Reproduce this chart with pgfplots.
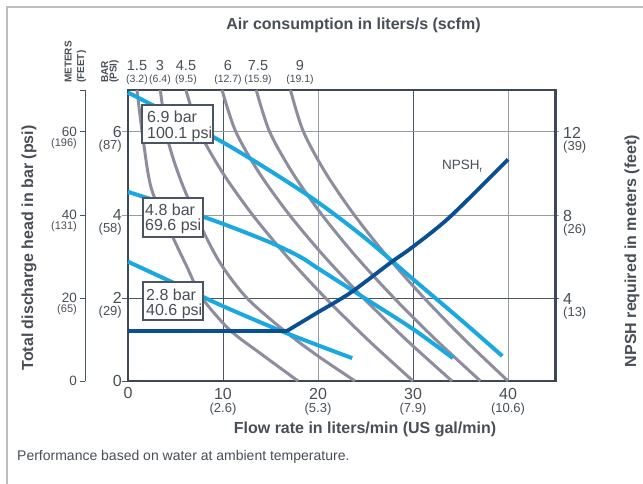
\documentclass[border=0pt]{standalone}
\usepackage{fontspec}
\setmainfont{Liberation Sans}
\usepackage{pgfplots}
\pgfplotsset{compat=1.18}
\definecolor{lb}{RGB}{26,168,225}
\definecolor{db}{RGB}{10,78,150}
\definecolor{cg}{RGB}{142,141,157}
\definecolor{fr}{RGB}{61,72,86}
\definecolor{gd}{RGB}{74,85,99}
\definecolor{gl}{RGB}{150,156,165}
\definecolor{tx}{RGB}{72,78,86}
\definecolor{bd}{RGB}{185,190,197}
\newcommand\fs[1]{\fontsize{#1}{#1}\selectfont}
\begin{document}
\begin{tikzpicture}[x=1pt,y=1pt]
\useasboundingbox (0,0) rectangle (643,483);
\draw[bd, line width=1.2pt] (7,-2) -- (7,476) -- (645,476);
\node[anchor=base west, font=\fs{14}, text=tx, inner sep=0] at (17,23) {Performance based on water at ambient temperature.};
% grid and outer axis (picture coordinates: x=128+9.5*X, y=102+41.5*Y)
\draw[gd, line width=1pt] (223,102) -- (223,392.5);
\draw[gl, line width=1pt] (318,102) -- (318,392.5);
\draw[gd, line width=1pt] (413,102) -- (413,392.5);
\draw[gl, line width=1pt] (508,102) -- (508,392.5);
\draw[gd, line width=1pt] (122,185) -- (559,185);
\draw[gl, line width=1pt] (122,268) -- (559,268);
\draw[gl, line width=1pt] (122,351) -- (559,351);
\draw[gd, line width=1pt] (122,102) -- (128,102);
\draw[gd, line width=1pt] (85,102) -- (85,392.5);
\foreach \yy in {102,185,268,351,392.5} {\draw[gd, line width=1pt] (80,\yy) -- (85,\yy);}
\begin{axis}[at={(128pt,102pt)}, anchor=south west, scale only axis,
  width=427.5pt, height=291pt, xmin=0, xmax=45, ymin=0, ymax=7,
  ticks=none, axis line style={fr, line width=2.5pt}, clip=false]
% air consumption curves
\addplot[cg, line width=3pt, smooth] coordinates {(0.95,7) (1.6,5.8) (2.5,4.6) (4.7,3.47) (6.2,2.75) (7.8,2.0) (10.7,1.23) (13.9,0.67) (17.9,0)};
\addplot[cg, line width=3pt, smooth] coordinates {(3.4,7) (4.2,5.8) (5.6,4.8) (7.5,3.8) (9.7,2.84) (12.5,2.0) (16.5,1.2) (20,0.6) (23.9,0)};
\addplot[cg, line width=3pt, smooth] coordinates {(6.1,7) (7.52,6) (9.99,5) (13.1,4) (16.72,3) (20.77,2) (25.21,1) (30,0)};
\addplot[cg, line width=3pt, smooth] coordinates {(9.9,7) (11.34,6) (13.83,5) (16.98,4) (20.65,3) (24.76,2) (29.25,1) (34.1,0)};
\addplot[cg, line width=3pt, smooth] coordinates {(13.5,7) (14.9,6) (17.34,5) (20.41,4) (23.98,3) (27.99,2) (32.37,1) (37.1,0)};
\addplot[cg, line width=3pt, smooth] coordinates {(17.1,7) (18.46,6) (20.82,5) (23.8,4) (27.27,3) (31.16,2) (35.41,1) (40,0)};
% pressure curves
\addplot[lb, line width=4pt, smooth] coordinates {(0,6.94) (5,6.35) (10,5.74) (15,5.05) (20,4.3) (25,3.43) (30,2.45) (35,1.48) (39.4,0.6)};
\addplot[lb, line width=4pt, smooth] coordinates {(0,4.55) (5,4.18) (10,3.78) (15,3.33) (18.1,2.99) (20,2.71) (25,1.98) (30,1.25) (34.2,0.55)};
\addplot[lb, line width=4pt, smooth] coordinates {(0,2.87) (5,2.34) (10,1.8) (16.7,1.15) (23.6,0.55)};
\end{axis}
\begin{axis}[at={(128pt,102pt)}, anchor=south west, scale only axis,
  width=427.5pt, height=291pt, xmin=0, xmax=45, ymin=0, ymax=14, hide axis, clip=false]
\addplot[db, line width=3.8pt] coordinates {(0,2.4) (16.7,2.4)};
\addplot[db, line width=3.8pt, smooth] coordinates {(16.7,2.4) (19.9,3.28) (23.4,4.24) (27.6,5.68) (30,6.46) (33.9,7.9) (40,10.66)};
\end{axis}
% tick labels
\foreach \yy/\pp in {6/87,4/58,2/29} {
  \node[anchor=east, font=\fs{16}, text=tx, inner sep=0] at (122,{102+41.5*\yy}) {\yy};
  \node[anchor=east, font=\fs{13}, text=tx, inner sep=0] at (122,{87.5+41.5*\yy}) {(\pp)};
}
\node[anchor=east, font=\fs{16}, text=tx, inner sep=0] at (122,102) {0};
\node[font=\fs{16}, text=tx, inner sep=0] at (128,90.5) {0};
\foreach \xx/\pp in {10/2.6,20/5.3,30/7.9,40/10.6} {
  \node[font=\fs{16}, text=tx, inner sep=0] at ({128+9.5*\xx},89.5) {\xx};
  \node[font=\fs{13}, text=tx, inner sep=0] at ({128+9.5*\xx},73.5) {(\pp)};
}
\foreach \yy/\mm/\pp in {6/60/196,4/40/131,2/20/65} {
  \node[anchor=east, font=\fs{13.5}, text=tx, inner sep=0] at (77,{102.5+41.5*\yy}) {\mm};
  \node[anchor=east, font=\fs{11}, text=tx, inner sep=0] at (77,{90+41.5*\yy}) {(\pp)};
}
\node[anchor=east, font=\fs{13.5}, text=tx, inner sep=0] at (77,102) {0};
\foreach \yy/\mm/\pp in {6/12/39,4/8/26,2/4/13} {
  \node[anchor=west, font=\fs{16}, text=tx, inner sep=0] at (563,{101.5+41.5*\yy}) {\mm};
  \node[anchor=west, font=\fs{13}, text=tx, inner sep=0] at (563,{87+41.5*\yy}) {(\pp)};
}
\foreach \xx/\aa/\pp in {137/1.5/3.2,160/3/6.4,186/4.5/9.5,228/6/12.7,258/7.5/15.9,300/9/19.1} {
  \node[font=\fs{14.5}, text=tx, inner sep=0] at (\xx,417.5) {\aa};
  \node[font=\fs{10.5}, text=tx, inner sep=0] at (\xx,403) {(\pp)};
}
\node[anchor=base west, font=\fs{13.5}, text=tx, inner sep=0] at (442,313) {NPSH\raisebox{-3pt}{\fs{8}r}};
% boxes
\draw[gd, line width=1.1pt, fill=white] (142,378) rectangle (213,340);
\node[anchor=base west, font=\fs{16}, text=tx, inner sep=0] at (147,360) {6.9 bar};
\node[anchor=base west, font=\fs{16}, text=tx, inner sep=0] at (147,344.5) {100.1 psi};
\draw[gd, line width=1.1pt, fill=white] (143,285) rectangle (203,246);
\node[anchor=base west, font=\fs{16}, text=tx, inner sep=0] at (145,267.5) {4.8 bar};
\node[anchor=base west, font=\fs{16}, text=tx, inner sep=0] at (145,253) {69.6 psi};
\draw[gd, line width=1.1pt, fill=white] (143,201) rectangle (203,163);
\node[anchor=base west, font=\fs{16}, text=tx, inner sep=0] at (146,183) {2.8 bar};
\node[anchor=base west, font=\fs{16}, text=tx, inner sep=0] at (146,168) {40.6 psi};
% titles
\node[anchor=base, font=\bfseries\fs{16}, text=tx, inner sep=0] at (353.5,453) {Air consumption in liters/s (scfm)};
\node[anchor=base, font=\bfseries\fs{16}, text=tx, inner sep=0] at (365,50) {Flow rate in liters/min (US gal/min)};
\node[rotate=90, font=\bfseries\fs{16}, text=tx, inner sep=0] at (29,235) {Total discharge head in bar (psi)};
\node[rotate=90, font=\bfseries\fs{16}, text=tx, inner sep=0] at (632,232) {NPSH required in meters (feet)};
\node[rotate=90, anchor=base west, font=\bfseries\fs{10}, text=tx, inner sep=0] at (71.5,400) {METERS};
\node[rotate=90, anchor=base west, font=\bfseries\fs{10}, text=tx, inner sep=0] at (84,400) {(FEET)};
\node[rotate=90, anchor=base west, font=\bfseries\fs{10}, text=tx, inner sep=0] at (108,400) {BAR};
\node[rotate=90, anchor=base west, font=\bfseries\fs{10}, text=tx, inner sep=0] at (116.5,400) {(PSI)};
\end{tikzpicture}
\end{document}
